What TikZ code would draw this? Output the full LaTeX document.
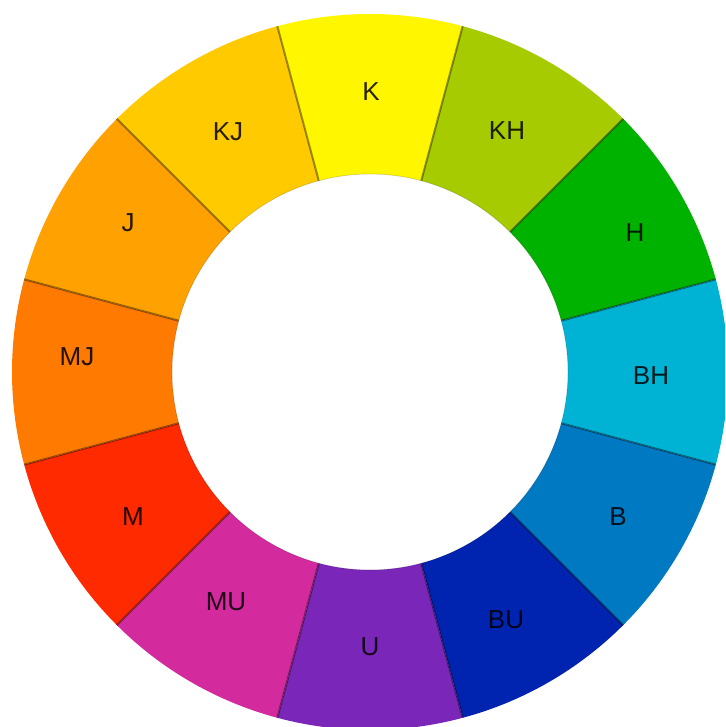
\documentclass[tikz,border=0pt]{standalone}
\usepackage{fontspec}
\setmainfont{Liberation Sans}
\definecolor{cK}{HTML}{FFF600}
\definecolor{cKH}{HTML}{A6CB00}
\definecolor{cH}{HTML}{00B200}
\definecolor{cBH}{HTML}{00B3D5}
\definecolor{cB}{HTML}{0079C3}
\definecolor{cBU}{HTML}{0024B0}
\definecolor{cU}{HTML}{7A26B8}
\definecolor{cMU}{HTML}{D32A9E}
\definecolor{cM}{HTML}{FF2A00}
\definecolor{cMJ}{HTML}{FF7A00}
\definecolor{cJ}{HTML}{FFA100}
\definecolor{cKJ}{HTML}{FFCA00}
\tikzset{
  lbl/.style={font=\fontsize{26}{26}\selectfont, text=black, text opacity=0.85, inner sep=0pt},
  divider/.style={draw=black, draw opacity=0.4, line width=2pt},
  rim/.style={draw=black, draw opacity=0.15, line width=0.8pt}
}
\begin{document}
\begin{tikzpicture}[x=1pt,y=1pt]
\useasboundingbox (0,0) rectangle (725,727);
\fill[white] (0,0) rectangle (725,727);
\clip (0,0) rectangle (725,727);
\coordinate (c) at (370,355);
\begin{scope}[shift={(370,355)}]
  \foreach \a/\col in {90/cK,60/cKH,30/cH,0/cBH,-30/cB,-60/cBU,-90/cU,-120/cMU,-150/cM,180/cMJ,150/cJ,120/cKJ}{
    \fill[\col] (\a-15:358) arc[start angle=\a-15, end angle=\a+15, radius=358]
      -- (\a+15:198) arc[start angle=\a+15, end angle=\a-15, radius=198] -- cycle;
  }
  \foreach \b in {15,45,...,345}{
    \draw[divider] (\b:198) -- (\b:358);
  }
  \draw[rim] (0,0) circle[radius=198];
\end{scope}
\node[lbl] (K)  at (371,635) {K};
\node[lbl] (KH) at (507,596) {KH};
\node[lbl] (H)  at (635,494) {H};
\node[lbl] (BH) at (651,351) {BH};
\node[lbl] (B)  at (618,210) {B};
\node[lbl] (BU) at (506,107) {BU};
\node[lbl] (U)  at (370,80)  {U};
\node[lbl] (MU) at (226,125) {MU};
\node[lbl] (M)  at (133,210) {M};
\node[lbl] (MJ) at (77,370)  {MJ};
\node[lbl] (J)  at (128,504) {J};
\node[lbl] (KJ) at (228,595) {KJ};
\end{tikzpicture}
\end{document}
